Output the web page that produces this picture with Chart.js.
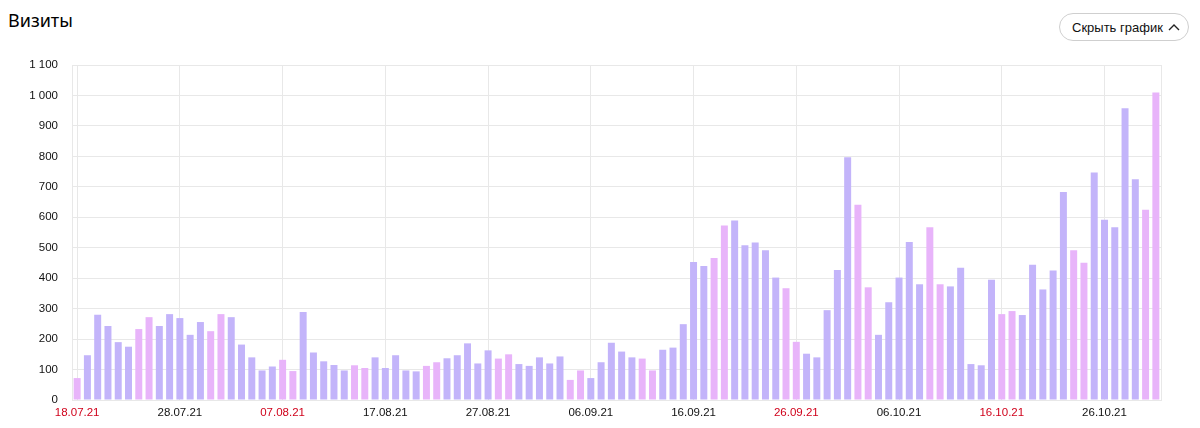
<!DOCTYPE html>
<html>
<head>
<meta charset="utf-8">
<script src="https://cdn.jsdelivr.net/npm/chart.js@4.4.1/dist/chart.umd.min.js"></script>
<style>
  html, body { margin: 0; padding: 0; background: #fff; }
  body { width: 1200px; height: 428px; position: relative; overflow: hidden; }
  #title { position: absolute; left: 8px; top: 11px; font: 18px/18px "Noto Sans", sans-serif; color: #000; }
  #btn { position: absolute; left: 1059px; top: 13px; width: 128px; height: 26px; border: 1px solid #cfcfcf;
         border-radius: 14px; box-sizing: content-box; font: 13px "Liberation Sans", Arial, sans-serif; color: #111;
         display: flex; align-items: center; }
  #btn span { margin-left: 12px; }
  #btn svg { margin-left: 5px; }
  #wrap { position: absolute; left: 0; top: 0; width: 1200px; height: 428px; }
</style>
</head>
<body>
<div id="title">Визиты</div>
<div id="btn"><span>Скрыть график</span><svg width="12" height="8" viewBox="0 0 12 8"><polyline points="1,7 6,2 11,7" fill="none" stroke="#222" stroke-width="1.4"/></svg></div>
<div id="wrap"><canvas id="c"></canvas></div>
<script>
// Dates from 18.07.21 to 31.10.21 (daily)
const startDate = [2021, 6, 18];
const dayCount = 106;
const visits = [
  72, 147, 280, 243, 190, 175, 233, 272, 243, 282,
  269, 214, 256, 226, 282, 272, 182, 140, 97, 110,
  132, 95, 289, 156, 127, 115, 97, 114, 105, 140,
  105, 147, 97, 94, 112, 124, 137, 147, 186, 120,
  163, 136, 150, 118, 112, 140, 120, 143, 66, 97,
  72, 124, 188, 159, 140, 136, 97, 165, 172, 249,
  453, 440, 466, 573, 589, 508, 517, 492, 402, 367,
  191, 152, 140, 295, 427, 797, 641, 370, 214, 321,
  402, 519, 380, 567, 380, 373, 434, 118, 114, 395,
  282, 292, 279, 444, 363, 425, 683, 492, 451, 747,
  592, 567, 958, 725, 625, 1010
];
const yTicks = [0, 100, 200, 300, 400, 500, 600, 700, 800, 900, 1000, 1100];

const dates = [];
for (let i = 0; i < dayCount; i++) dates.push(new Date(startDate[0], startDate[1], startDate[2] + i));
const pad = n => (n < 10 ? '0' : '') + n;
const labels = dates.map(d => pad(d.getDate()) + '.' + pad(d.getMonth() + 1) + '.' + String(d.getFullYear()).slice(2));
const isWeekend = i => { const w = dates[i].getDay(); return w === 0 || w === 6; };

const WEEKDAY = '#c3b4fa', WEEKEND = '#e8b4fa', GRID = '#e8e8e8';

const frame = {
  id: 'frame',
  afterDraw(chart) {
    const { ctx, chartArea: a } = chart;
    ctx.save();
    ctx.strokeStyle = GRID;
    ctx.lineWidth = 1;
    ctx.beginPath();
    ctx.moveTo(Math.round(a.right) + 0.5, a.top);
    ctx.lineTo(Math.round(a.right) + 0.5, a.bottom);
    ctx.stroke();
    ctx.restore();
  }
};

new Chart(document.getElementById('c'), {
  type: 'bar',
  data: {
    labels: labels,
    datasets: [{
      data: visits,
      backgroundColor: ctx => isWeekend(ctx.dataIndex) ? WEEKEND : WEEKDAY,
      barPercentage: 0.68,
      categoryPercentage: 1.0,
      borderWidth: 0
    }]
  },
  options: {
    responsive: true,
    maintainAspectRatio: false,
    animation: false,
    layout: { padding: { left: 0, right: 39, top: 65, bottom: 0 } },
    plugins: { legend: { display: false }, tooltip: { enabled: false } },
    scales: {
      x: {
        offset: true,
        grid: {
          offset: false,
          drawTicks: false,
          color: ctx => (ctx.index % 10 === 0 ? GRID : 'rgba(0,0,0,0)'),
          lineWidth: 1
        },
        border: { display: true, color: GRID },
        ticks: {
          autoSkip: false,
          maxRotation: 0,
          minRotation: 0,
          padding: 6,
          font: { family: '"Liberation Sans", Arial, sans-serif', size: 11.5 },
          color: ctx => (isWeekend(ctx.index) ? '#d0021b' : '#111'),
          callback: (v, i) => (i % 10 === 0 ? labels[i] : '')
        },
        afterFit: s => { s.height = 28; }
      },
      y: {
        min: 0,
        max: 1100,
        afterBuildTicks: s => { s.ticks = yTicks.map(v => ({ value: v })); },
        grid: { color: GRID, drawTicks: false, lineWidth: 1 },
        border: { display: true, color: GRID },
        ticks: {
          padding: 14,
          font: { family: '"Liberation Sans", Arial, sans-serif', size: 11.5 },
          color: '#111',
          callback: v => (v >= 1000 ? Math.floor(v / 1000) + ' ' + String(v % 1000).padStart(3, '0') : String(v))
        },
        afterFit: s => { s.width = 72; }
      }
    }
  },
  plugins: [frame]
});
</script>
</body>
</html>
